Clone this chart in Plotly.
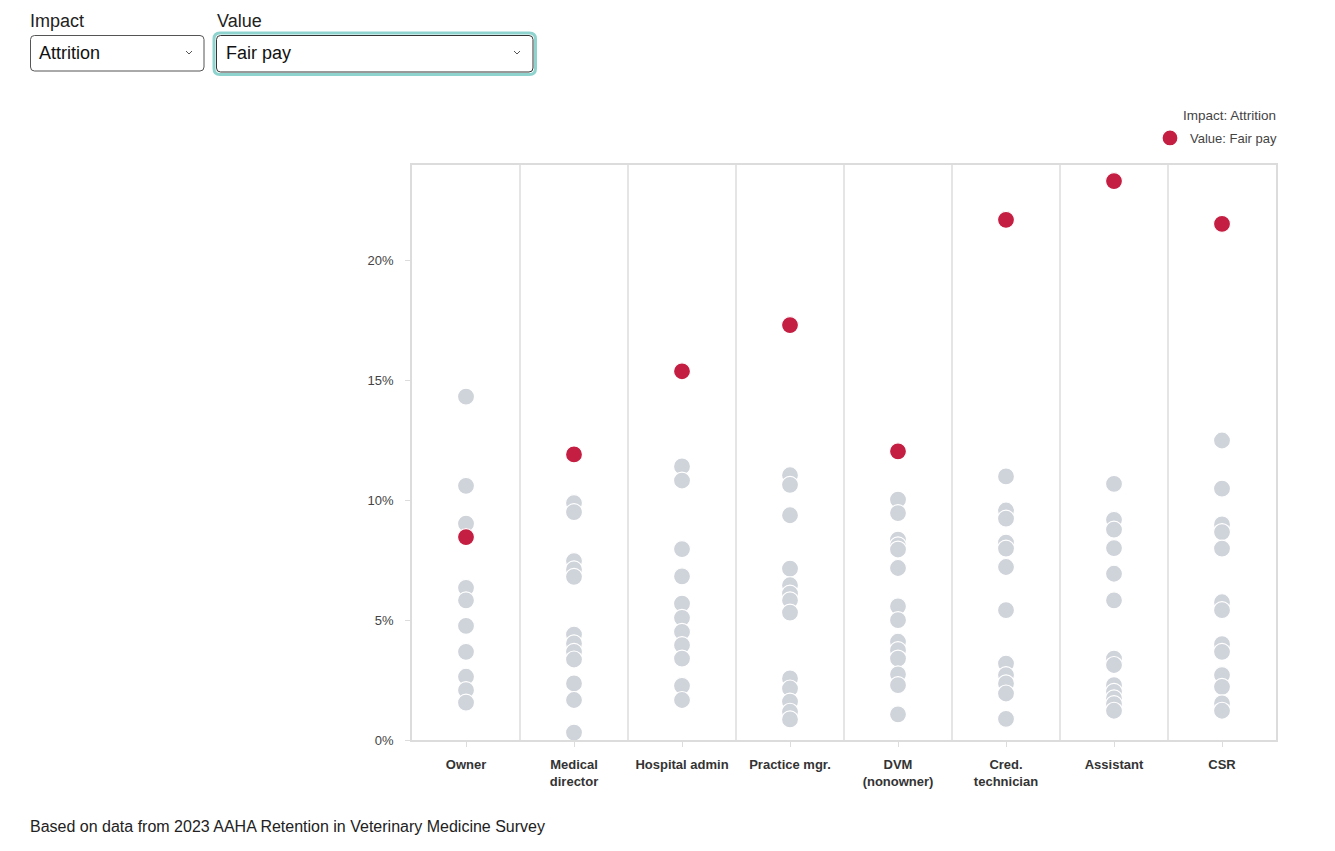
import plotly.graph_objects as go

# ---------------- data ----------------
roles = ["Owner", "Medical<br>director", "Hospital admin", "Practice mgr.",
         "DVM<br>(nonowner)", "Cred.<br>technician", "Assistant", "CSR"]

fair_pay = [8.47, 11.92, 15.39, 17.32, 12.05, 21.71, 23.33, 21.54]

owner_other = [14.33, 10.61, 9.03, 6.35, 5.83, 4.76, 3.68, 2.64, 2.08, 1.56]
meddir_other = [9.89, 9.51, 7.47, 7.12, 6.81, 4.40, 4.03, 3.68, 3.36, 2.36, 1.67, 0.31]
hospadmin_other = [11.42, 10.83, 7.97, 6.83, 5.69, 5.10, 4.51, 3.96, 3.40, 2.26, 1.67]
practmgr_other = [11.05, 10.65, 9.38, 7.15, 6.46, 6.11, 5.83, 5.32, 2.57, 2.15, 1.60, 1.18, 0.86]
dvm_other = [10.03, 9.47, 8.36, 8.12, 7.95, 7.18, 5.58, 5.00, 4.10, 3.75, 3.40, 2.74, 2.29, 1.07]
credtech_other = [11.00, 9.58, 9.24, 8.24, 7.99, 7.22, 5.42, 3.19, 2.71, 2.36, 1.94, 0.88]
assistant_other = [10.69, 9.19, 8.78, 8.01, 6.94, 5.83, 3.40, 3.13, 2.29, 2.01, 1.74, 1.50, 1.22]
csr_other = [12.50, 10.49, 9.00, 8.68, 7.99, 5.75, 5.42, 4.00, 3.68, 2.71, 2.22, 1.53, 1.22]

other_values = [owner_other, meddir_other, hospadmin_other, practmgr_other,
                dvm_other, credtech_other, assistant_other, csr_other]

y_ticks = [0, 5, 10, 15, 20]
y_tick_labels = ["0%", "5%", "10%", "15%", "20%"]

# ---------------- style ----------------
FONT = "Liberation Sans, Arial, sans-serif"
GRAY = "#cfd3da"
RED = "#c41e42"
LINE = "#dcdcdc"

W, H = 1335, 851
L, R, T, B = 412, 1276, 165, 740


def px(x):
    return (x - L) / (R - L)


def py(y):
    return (B - y) / (B - T)


gx, gy = [], []
for i, vals in enumerate(other_values):
    gx += [i] * len(vals)
    gy += vals

fig = go.Figure()
fig.add_trace(go.Scatter(
    x=gx, y=gy, mode="markers", showlegend=False, hoverinfo="skip",
    marker=dict(size=17, color=GRAY, line=dict(color="white", width=1.2)),
))
fig.add_trace(go.Scatter(
    x=list(range(len(roles))), y=fair_pay, mode="markers",
    name="Value: Fair pay", showlegend=True,
    marker=dict(size=17, color=RED, line=dict(color="white", width=1.2)),
))

shapes = []
# category separators
for i in range(len(roles) - 1):
    shapes.append(dict(type="line", xref="x", yref="paper", x0=i + 0.5, x1=i + 0.5,
                       y0=0, y1=1, line=dict(color=LINE, width=1.5), layer="below"))


def rrect(x0, y0, x1, y1, r):
    pts = [
        f"M {px(x0 + r)},{py(y0)}",
        f"L {px(x1 - r)},{py(y0)}",
        f"Q {px(x1)},{py(y0)} {px(x1)},{py(y0 + r)}",
        f"L {px(x1)},{py(y1 - r)}",
        f"Q {px(x1)},{py(y1)} {px(x1 - r)},{py(y1)}",
        f"L {px(x0 + r)},{py(y1)}",
        f"Q {px(x0)},{py(y1)} {px(x0)},{py(y1 - r)}",
        f"L {px(x0)},{py(y0 + r)}",
        f"Q {px(x0)},{py(y0)} {px(x0 + r)},{py(y0)} Z",
    ]
    return " ".join(pts)


# dropdown 1
shapes.append(dict(type="path", xref="paper", yref="paper",
                   path=rrect(30.5, 35.5, 204, 71, 4),
                   line=dict(color="#555555", width=1), fillcolor="white"))
# dropdown 2 focus ring + box
shapes.append(dict(type="path", xref="paper", yref="paper",
                   path=rrect(214, 33, 535.5, 74.5, 6),
                   line=dict(color="#8fd3cf", width=3), fillcolor="white"))
shapes.append(dict(type="path", xref="paper", yref="paper",
                   path=rrect(216.5, 35.5, 533, 72, 4),
                   line=dict(color="#333333", width=1), fillcolor="white"))
# chevrons
for cx in (189, 517):
    shapes.append(dict(type="path", xref="paper", yref="paper",
                       path=f"M {px(cx - 3)},{py(51)} L {px(cx)},{py(54)} L {px(cx + 3)},{py(51)}",
                       line=dict(color="#555555", width=1)))


def ann(text, x, y, size, color, xanchor="left"):
    return dict(text=text, x=px(x), y=py(y), xref="paper", yref="paper",
                xanchor=xanchor, yanchor="middle", showarrow=False, borderpad=0,
                font=dict(family=FONT, size=size, color=color))


annotations = [
    ann("Impact", 29, 21, 18, "#222222"),
    ann("Value", 216, 21, 18, "#222222"),
    ann("Attrition", 38, 53, 18, "#111111"),
    ann("Fair pay", 225, 53, 18, "#111111"),
    ann("Based on data from 2023 AAHA Retention in Veterinary Medicine Survey",
        29, 826, 16, "#222222"),
    ann("Impact: Attrition", 1277, 115, 13.5, "#444444", xanchor="right"),
]

fig.update_layout(
    width=W, height=H, autosize=False,
    margin=dict(l=L, r=W - R, t=T, b=H - B, pad=0),
    paper_bgcolor="white", plot_bgcolor="white",
    font=dict(family=FONT, size=12, color="#333333"),
    xaxis=dict(
        range=[-0.5, len(roles) - 0.5],
        tickmode="array", tickvals=list(range(len(roles))),
        ticktext=[f"<b>{r}</b>" for r in roles],
        ticks="outside", ticklen=5, tickcolor=LINE, tickwidth=1,
        ticklabelstandoff=7,
        showgrid=False, zeroline=False,
        showline=True, mirror=True, linecolor=LINE, linewidth=1.5,
        tickfont=dict(family=FONT, size=13, color="#333333"),
        fixedrange=True,
    ),
    yaxis=dict(
        range=[0, 24],
        tickmode="array", tickvals=y_ticks, ticktext=y_tick_labels,
        ticks="outside", ticklen=5, tickcolor=LINE, tickwidth=1,
        ticklabelstandoff=9,
        showgrid=False, zeroline=False,
        showline=True, mirror=True, linecolor=LINE, linewidth=1.5,
        tickfont=dict(family=FONT, size=13, color="#444444"),
        fixedrange=True,
    ),
    showlegend=True,
    legend=dict(
        x=1 + 6 / (R - L), xanchor="right", y=py(123), yanchor="top",
        bgcolor="rgba(0,0,0,0)",
        font=dict(family=FONT, size=13, color="#444444"),
        itemwidth=30, tracegroupgap=0,
    ),
    shapes=shapes,
    annotations=annotations,
)

fig.write_html("out.html")
